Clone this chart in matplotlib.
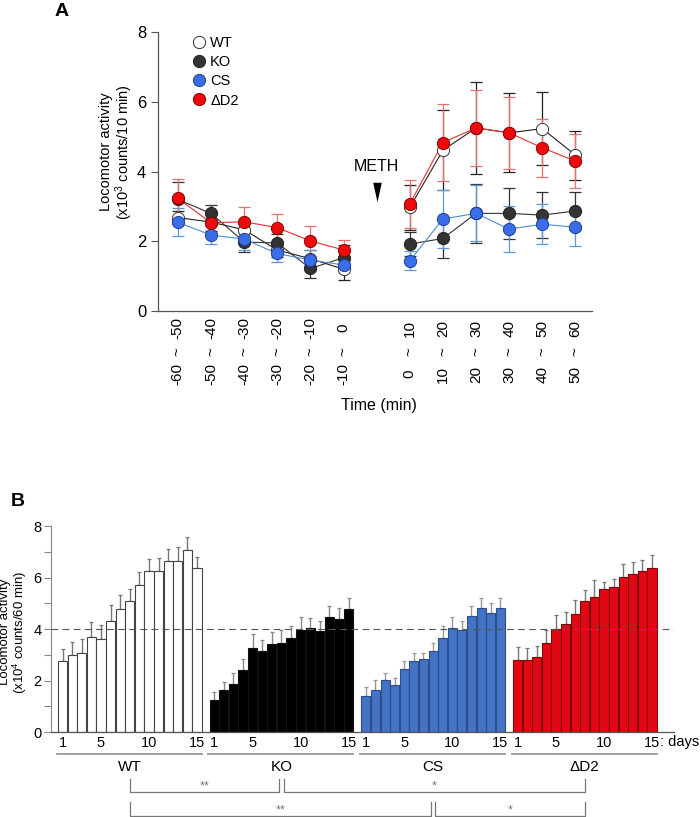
import numpy as np
import matplotlib
matplotlib.use('Agg')
import matplotlib.pyplot as plt
from matplotlib.lines import Line2D
from matplotlib.path import Path

plt.rcParams['font.family'] = ['Liberation Sans', 'DejaVu Sans']
plt.rcParams['mathtext.fontset'] = 'custom'
plt.rcParams['mathtext.rm'] = 'Liberation Sans'
plt.rcParams['mathtext.default'] = 'regular'

# ---------- panel A data (x10^3 counts / 10 min) ----------
bin_hi = ['-50', '-40', '-30', '-20', '-10', '0', '10', '20', '30', '40', '50', '60']
bin_lo = ['-60', '-50', '-40', '-30', '-20', '-10', '0', '10', '20', '30', '40', '50']

wt_a = [2.68, 2.55, 2.33, 1.75, 1.50, 1.20, 2.97, 4.61, 5.25, 5.11, 5.23, 4.47]
ko_a = [3.20, 2.80, 1.98, 1.95, 1.22, 1.53, 1.92, 2.08, 2.80, 2.80, 2.75, 2.87]
cs_a = [2.54, 2.18, 2.06, 1.65, 1.46, 1.32, 1.44, 2.64, 2.80, 2.35, 2.49, 2.40]
d2_a = [3.23, 2.53, 2.56, 2.39, 2.01, 1.75, 3.07, 4.83, 5.25, 5.11, 4.68, 4.30]

wt_a_err = [0.18, 0.25, 0.20, 0.20, 0.25, 0.30, 0.65, 1.15, 1.32, 1.13, 1.04, 0.70]
ko_a_err = [0.50, 0.25, 0.30, 0.25, 0.28, 0.35, 0.35, 0.55, 0.84, 0.74, 0.67, 0.55]
cs_a_err = [0.40, 0.25, 0.30, 0.25, 0.30, 0.20, 0.27, 0.83, 0.80, 0.65, 0.57, 0.53]
d2_a_err = [0.55, 0.30, 0.42, 0.40, 0.42, 0.30, 0.70, 1.10, 1.10, 1.03, 0.84, 0.77]

# ---------- panel B data (x10^4 counts / 60 min), days 1-15 ----------
groups = ['WT', 'KO', 'CS', 'ΔD2']
wt_b = [2.76, 2.98, 3.06, 3.71, 3.61, 4.32, 4.78, 5.09, 5.73, 6.26, 6.26, 6.64, 6.64, 7.06, 6.38]
ko_b = [1.26, 1.65, 1.88, 2.40, 3.27, 3.13, 3.43, 3.45, 3.65, 3.97, 4.03, 3.92, 4.46, 4.39, 4.79]
cs_b = [1.39, 1.65, 2.02, 1.82, 2.46, 2.76, 2.83, 3.15, 3.64, 4.03, 3.95, 4.50, 4.82, 4.63, 4.81]
d2_b = [2.78, 2.80, 2.92, 3.45, 4.00, 4.20, 4.59, 5.08, 5.23, 5.55, 5.63, 6.03, 6.12, 6.25, 6.39]

wt_b_err = [0.46, 0.52, 0.55, 0.55, 0.55, 0.60, 0.56, 0.46, 0.50, 0.46, 0.50, 0.46, 0.55, 0.50, 0.42]
ko_b_err = [0.28, 0.30, 0.42, 0.43, 0.52, 0.43, 0.45, 0.50, 0.45, 0.50, 0.40, 0.39, 0.43, 0.43, 0.42]
cs_b_err = [0.37, 0.37, 0.29, 0.26, 0.30, 0.30, 0.23, 0.30, 0.46, 0.44, 0.38, 0.41, 0.37, 0.39, 0.38]
d2_b_err = [0.54, 0.46, 0.43, 0.52, 0.56, 0.45, 0.54, 0.43, 0.66, 0.29, 0.31, 0.48, 0.47, 0.45, 0.48]

day_ticks = [1, 5, 10, 15]
# (group a, group b, stars, row)
sig = [(0, 1, '**', 0), (1, 3, '*', 0), (0, 2, '**', 1), (2, 3, '*', 1)]

fig = plt.figure(figsize=(7, 8.17), dpi=100)

# ================= panel A =================
ax = fig.add_axes([0.2257, 0.6193, 0.62, 0.3415])
xpos = np.r_[np.arange(6), np.arange(6) + 7]
pre, post = slice(0, 6), slice(6, 12)

series = [
    ('WT', wt_a, wt_a_err, 'white', '#333333', '#222222', '#222222'),
    ('KO', ko_a, ko_a_err, '#333333', '#222222', '#333333', '#333333'),
    ('CS', cs_a, cs_a_err, '#3a6ee8', '#1f3f99', '#4a8fd0', '#5c9ad6'),
    ('ΔD2', d2_a, d2_a_err, '#ee0a0a', '#8a0000', '#e03030', '#e87070'),
]
handles = []
for name, vals, err, fc, ec, lc, erc in series:
    vals = np.array(vals)
    err = np.array(err)
    for sl in (pre, post):
        ax.errorbar(xpos[sl], vals[sl], yerr=err[sl], fmt='none', ecolor=erc,
                    elinewidth=0.9, capsize=4, capthick=0.9, zorder=2)
        ax.plot(xpos[sl], vals[sl], '-', color=lc, lw=0.8, zorder=3)
        ax.plot(xpos[sl], vals[sl], 'o', ms=8.8, mfc=fc, mec=ec, mew=0.7, zorder=4)
    handles.append(Line2D([], [], ls='none', marker='o', ms=8.8, mfc=fc, mec=ec,
                          mew=0.7, label=name))

ax.legend(handles=handles, loc='upper left', bbox_to_anchor=(0.08, 0.985),
          frameon=False, fontsize=10.5, handlelength=0.8, handletextpad=0.4,
          labelspacing=0.35, borderaxespad=0, borderpad=0)

ax.set_xlim(-0.6, 12.5)
ax.set_ylim(0, 8)
ax.set_yticks([0, 2, 4, 6, 8])
ax.set_xticks([])
ax.tick_params(axis='y', labelsize=12, length=5, color='#555555', width=0.8)
for s in ('top', 'right'):
    ax.spines[s].set_visible(False)
for s in ('left', 'bottom'):
    ax.spines[s].set_color('#555555')
    ax.spines[s].set_linewidth(0.9)

for x, hi, lo in zip(xpos, bin_hi, bin_lo):
    ax.text(x, -0.49, hi, rotation=90, ha='center', va='center', fontsize=11, clip_on=False)
    ax.text(x, -1.17, '~', rotation=90, ha='center', va='center', fontsize=11, clip_on=False)
    ax.text(x, -1.81, lo, rotation=90, ha='center', va='center', fontsize=11, clip_on=False)
ax.text(6.08, -2.72, 'Time (min)', ha='center', va='center', fontsize=11.5, clip_on=False)

ax.text(6.0, 4.13, 'METH', ha='center', va='center', fontsize=11.5)
arrow = Path([(-0.22, 0.5), (0.22, 0.5), (0, -0.5), (-0.22, 0.5)],
             [Path.MOVETO, Path.LINETO, Path.LINETO, Path.CLOSEPOLY])
ax.plot([6.0], [3.4], marker=arrow, ms=14, color='black', mew=0)

fig.text(117 / 700, 1 - 152 / 817, 'Locomotor activity\n(x10$^3$ counts/10 min)',
         rotation=90, ha='center', va='center', fontsize=10.5, linespacing=1.0)
fig.text(62 / 700, 1 - 12 / 817, 'A', fontsize=14, fontweight='bold', ha='center', va='center')

# ================= panel B =================
bx = fig.add_axes([0.0729, 0.104, 0.890, 0.2521])
bars = [wt_b, ko_b, cs_b, d2_b]
errs = [wt_b_err, ko_b_err, cs_b_err, d2_b_err]
fills = ['white', 'black', '#4472c4', '#e30613']
edges = ['#444444', '#111111', '#2c4f8c', '#7a0a0a']
ecols = ['#777777', '#888888', '#999999', '#777777']
step = 15.8
days = np.arange(1, 16)
anchors = []
tick_x, tick_l = [], []
for g, (vals, err, fc, ec, erc) in enumerate(zip(bars, errs, fills, edges, ecols)):
    x = g * step + (days - 1)
    bx.bar(x, vals, width=0.95, color=fc, edgecolor=ec, linewidth=0.8, zorder=2)
    bx.errorbar(x, vals, yerr=[np.zeros(15), err], fmt='none', ecolor=erc,
                elinewidth=1.0, capsize=1.5, capthick=0.9, zorder=1)
    for d in day_ticks:
        tick_x.append(g * step + d - 1)
        tick_l.append(str(d))
    # group underline and label
    bx.plot([x[0] - 0.6, x[-1] + 0.5], [-0.854, -0.854], color='#999999', lw=1.3, clip_on=False)
    bx.text(x[7], -1.36, groups[g], ha='center', va='center', fontsize=11, clip_on=False)
    anchors.append(x[7])

bx.text(tick_x[-1] + 0.85, -0.12, ': days', ha='left', va='top', fontsize=10.5, clip_on=False)

bx.axhline(4, color='#555555', lw=0.8, dashes=(6, 4), zorder=3)

bx.set_xlim(-1.2, 63.7)
bx.set_ylim(0, 8)
bx.set_xticks(tick_x)
bx.set_xticklabels(tick_l)
bx.tick_params(axis='x', length=0, labelsize=10.5, pad=3)
bx.set_yticks([0, 2, 4, 6, 8])
bx.set_yticks([1, 3, 5, 7], minor=True)
bx.tick_params(axis='y', which='both', length=5, color='#888888', width=0.8,
               labelsize=10.5, pad=2)
for s in ('top', 'right'):
    bx.spines[s].set_visible(False)
bx.spines['left'].set_color('#888888')
bx.spines['bottom'].set_color('#555555')
bx.spines['bottom'].set_linewidth(0.9)

# significance brackets
rows = [(-1.83, -2.33, -2.12), (-2.72, -3.27, -3.04)]
for a, b, stars, r in sig:
    top, bot, ty = rows[r]
    xa = anchors[a] + (0.25 if any(s[1] == a and s[3] == r for s in sig) else 0)
    xb = anchors[b] - (0.25 if any(s[0] == b and s[3] == r for s in sig) else 0)
    bx.plot([xa, xa, xb, xb], [top, bot, bot, top], color='#777777', lw=0.9, clip_on=False)
    bx.text((xa + xb) / 2, ty, stars, ha='center', va='center', fontsize=9,
            color='#777777', clip_on=False)

fig.text(14 / 700, 1 - 632 / 817, 'Locomotor activity\n(x10$^4$ counts/60 min)',
         rotation=90, ha='center', va='center', fontsize=9.5, linespacing=0.95)
fig.text(18 / 700, 1 - 501 / 817, 'B', fontsize=14, fontweight='bold', ha='center', va='center')

fig.savefig('out.png', dpi=100)
